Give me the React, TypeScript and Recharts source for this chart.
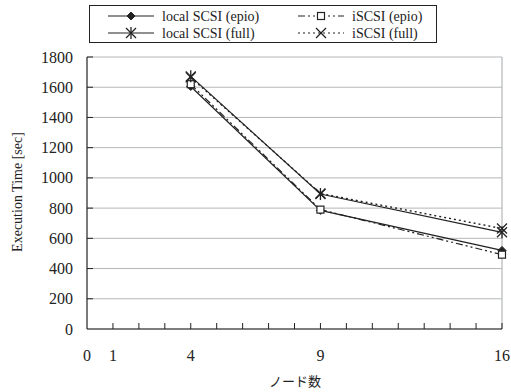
import React from 'react';
import {
  LineChart,
  Line,
  XAxis,
  YAxis,
  CartesianGrid,
  ReferenceLine,
} from 'recharts';

// ---------------------------------------------------------------------------
// Data
// ---------------------------------------------------------------------------

const nodes = [4, 9, 16];
const localEpio = [1605, 785, 520];
const iscsiEpio = [1620, 790, 492];
const localFull = [1672, 893, 640];
const iscsiFull = [1665, 897, 665];

const xTicks = [0, 1, 2, 3, 4, 5, 6, 7, 8, 9, 10, 11, 12, 13, 14, 15, 16];
const xLabels = [0, 1, 4, 9, 16];
const yTicks = [0, 200, 400, 600, 800, 1000, 1200, 1400, 1600, 1800];

const data = nodes.map((n, i) => ({
  x: n,
  localEpio: localEpio[i],
  iscsiEpio: iscsiEpio[i],
  localFull: localFull[i],
  iscsiFull: iscsiFull[i],
}));

const INK = '#222';
const GRID = '#b4b6b8';
const SERIF = '"Liberation Serif", "Times New Roman", serif';

// ---------------------------------------------------------------------------
// Markers
// ---------------------------------------------------------------------------

type MarkerKind = 'diamond' | 'square' | 'star' | 'cross';

const Marker = ({ kind, cx, cy }: { kind: MarkerKind; cx: number; cy: number }) => {
  switch (kind) {
    case 'diamond':
      return (
        <polygon
          points={`${cx},${cy - 4} ${cx + 4},${cy} ${cx},${cy + 4} ${cx - 4},${cy}`}
          fill={INK}
          stroke={INK}
        />
      );
    case 'square':
      return <rect x={cx - 3.5} y={cy - 3.5} width={7} height={7} fill="#fff" stroke={INK} strokeWidth={1.2} />;
    case 'star':
      return (
        <g stroke={INK} strokeWidth={1.3}>
          <line x1={cx - 5} y1={cy - 5} x2={cx + 5} y2={cy + 5} />
          <line x1={cx - 5} y1={cy + 5} x2={cx + 5} y2={cy - 5} />
          <line x1={cx} y1={cy - 6} x2={cx} y2={cy + 6} />
        </g>
      );
    default:
      return (
        <g stroke={INK} strokeWidth={1.3}>
          <line x1={cx - 5} y1={cy - 5} x2={cx + 5} y2={cy + 5} />
          <line x1={cx - 5} y1={cy + 5} x2={cx + 5} y2={cy - 5} />
        </g>
      );
  }
};

const dotFor = (kind: MarkerKind) => (props: any) => (
  <Marker key={`${kind}-${props.index}`} kind={kind} cx={props.cx} cy={props.cy} />
);

// ---------------------------------------------------------------------------
// Ticks
// ---------------------------------------------------------------------------

const XTick = (props: any) => {
  const { x, y, payload } = props;
  const v = payload.value;
  return (
    <g>
      {v !== 0 && <line x1={x} y1={y} x2={x} y2={y - 6} stroke={INK} strokeWidth={1} />}
      {xLabels.includes(v) && (
        <text x={x} y={y + 32} textAnchor="middle" fontSize={16} fontFamily={SERIF} fill={INK}>
          {v}
        </text>
      )}
    </g>
  );
};

const YTick = (props: any) => {
  const { x, y, payload } = props;
  return (
    <g>
      {payload.value !== 0 && <line x1={x} y1={y} x2={x + 6} y2={y} stroke={INK} strokeWidth={1} />}
      <text x={x - 14} y={y + 5.5} textAnchor="end" fontSize={16} fontFamily={SERIF} fill={INK}>
        {payload.value}
      </text>
    </g>
  );
};

// ---------------------------------------------------------------------------
// Legend (drawn outside the chart so it does not push the plot down)
// ---------------------------------------------------------------------------

const legendItems: { label: string; kind: MarkerKind; dash?: string; col: number; row: number }[] = [
  { label: 'local SCSI (epio)', kind: 'diamond', col: 0, row: 0 },
  { label: 'iSCSI (epio)', kind: 'square', dash: '7 3 2 3 2 3', col: 1, row: 0 },
  { label: 'local SCSI (full)', kind: 'star', col: 0, row: 1 },
  { label: 'iSCSI (full)', kind: 'cross', dash: '2 3', col: 1, row: 1 },
];

const ChartLegend = () => (
  <svg
    width={349}
    height={39}
    style={{ position: 'absolute', left: 89, top: 5, display: 'block' }}
  >
    <rect x={0.5} y={0.5} width={347} height={37} fill="#fff" stroke={INK} strokeWidth={1} />
    {legendItems.map((it) => {
      const lx = it.col === 0 ? 19 : 209;
      const ly = it.row === 0 ? 11 : 28;
      return (
        <g key={it.label}>
          <line x1={lx} y1={ly} x2={lx + 46} y2={ly} stroke={INK} strokeWidth={1.2} strokeDasharray={it.dash} />
          <Marker kind={it.kind} cx={lx + 23} cy={ly} />
          <text x={lx + 54} y={ly + 5} fontSize={14} fontFamily={SERIF} fill={INK}>
            {it.label}
          </text>
        </g>
      );
    })}
  </svg>
);

// ---------------------------------------------------------------------------
// Chart
// ---------------------------------------------------------------------------

export default function App() {
  return (
    <div style={{ width: 511, height: 392, position: 'relative', background: '#fff' }}>
      <style>{'body{margin:0}'}</style>
      <LineChart width={511} height={392} data={data} margin={{ top: 57, right: 9, bottom: 0, left: 0 }}>
        <CartesianGrid horizontal vertical={false} stroke={GRID} strokeWidth={1} />
        <ReferenceLine x={16} stroke={GRID} strokeWidth={1.2} />
        <XAxis
          type="number"
          dataKey="x"
          domain={[0, 16]}
          ticks={xTicks}
          interval={0}
          tickSize={0}
          tickMargin={0}
          height={63}
          axisLine={{ stroke: INK, strokeWidth: 1.2 }}
          tickLine={false}
          tick={<XTick />}
          allowDecimals={false}
        />
        <YAxis
          type="number"
          domain={[0, 1800]}
          ticks={yTicks}
          interval={0}
          tickSize={0}
          tickMargin={0}
          width={87}
          axisLine={{ stroke: INK, strokeWidth: 1.2 }}
          tickLine={false}
          tick={<YTick />}
        />
        <Line
          dataKey="localEpio"
          stroke={INK}
          strokeWidth={1.2}
          dot={dotFor('diamond')}
          isAnimationActive={false}
        />
        <Line
          dataKey="iscsiEpio"
          stroke={INK}
          strokeWidth={1.2}
          strokeDasharray="7 3 2 3 2 3"
          dot={dotFor('square')}
          isAnimationActive={false}
        />
        <Line
          dataKey="localFull"
          stroke={INK}
          strokeWidth={1.2}
          dot={dotFor('star')}
          isAnimationActive={false}
        />
        <Line
          dataKey="iscsiFull"
          stroke={INK}
          strokeWidth={1.4}
          strokeDasharray="2 3"
          dot={dotFor('cross')}
          isAnimationActive={false}
        />
      </LineChart>
      <ChartLegend />
      <div
        style={{
          position: 'absolute',
          left: 18,
          top: 192,
          transform: 'translate(-50%, -50%) rotate(-90deg)',
          whiteSpace: 'nowrap',
          fontFamily: SERIF,
          fontSize: 14,
          color: INK,
        }}
      >
        Execution Time [sec]
      </div>
      <div
        style={{
          position: 'absolute',
          left: 295,
          top: 380,
          transform: 'translate(-50%, -50%)',
          whiteSpace: 'nowrap',
          fontFamily: '"Noto Sans CJK JP", sans-serif',
          fontSize: 13,
          color: INK,
        }}
      >
        ノード数
      </div>
    </div>
  );
}
